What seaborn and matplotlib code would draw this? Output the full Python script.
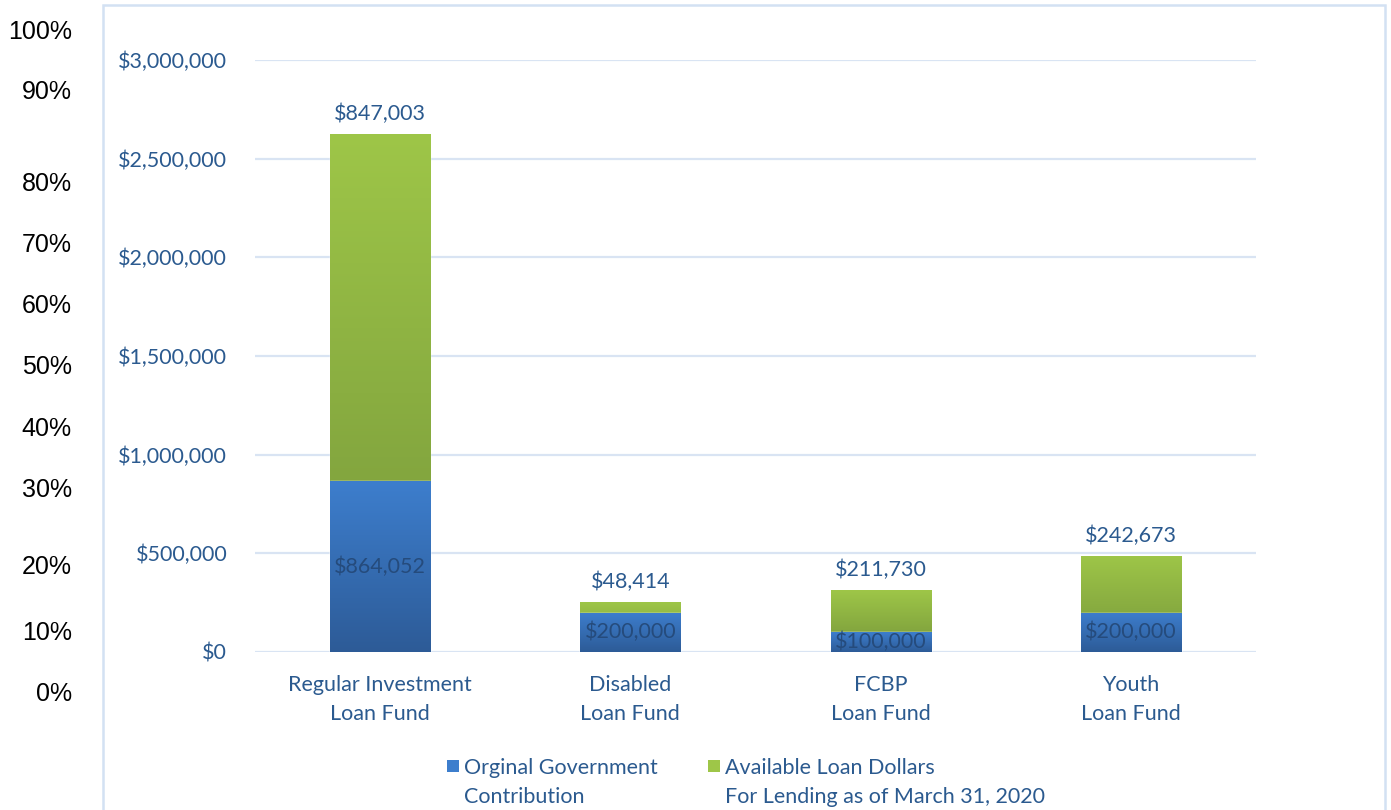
import numpy as np
import pandas as pd
import matplotlib
matplotlib.use("Agg")
import matplotlib.pyplot as plt
from matplotlib.patches import Rectangle
from matplotlib.colors import LinearSegmentedColormap
import seaborn as sns

# data
funds = ["Regular Investment\nLoan Fund", "Disabled\nLoan Fund", "FCBP\nLoan Fund", "Youth\nLoan Fund"]
government = [864052, 200000, 100000, 200000]
available = [1763000, 53000, 214000, 287000]          # drawn bar heights
available_labels = [847003, 48414, 211730, 242673]    # printed values
pct_labels = ["100%", "90%", "80%", "70%", "60%", "50%", "40%", "30%", "20%", "10%", "0%"]
legend_labels = ["Orginal Government\nContribution",
                 "Available Loan Dollars\nFor Lending as of March 31, 2020"]

sns.set_theme(style="white")
plt.rcParams["font.family"] = ["Lato", "DejaVu Sans"]

text_blue = "#2B5A8F"
grid_col = "#D9E4F3"
blue_top, blue_bot = "#3D7ECD", "#2D5B97"
green_top, green_bot = "#9EC648", "#76963A"
fs = 15.5

df = pd.DataFrame({"fund": funds, "gov": government, "avail": available})
df["total"] = df["gov"] + df["avail"]

W, H = 1391, 810
fig = plt.figure(figsize=(W / 100, H / 100), dpi=100)
ax = fig.add_axes([255 / W, 1 - 652 / H, 1001 / W, 592 / H])

sns.barplot(data=df, x="fund", y="total", color=green_top, width=0.4, ax=ax, zorder=2)
sns.barplot(data=df, x="fund", y="gov", color=blue_top, width=0.4, ax=ax, zorder=3)

# vertical gradients inside the bars
n = len(funds)
for i, p in enumerate(ax.patches):
    top, bot = (green_top, green_bot) if i < n else (blue_top, blue_bot)
    cmap = LinearSegmentedColormap.from_list("g", [bot, top])
    x0, y0 = p.get_x(), p.get_y()
    w, h = p.get_width(), p.get_height()
    im = ax.imshow(np.linspace(0, 1, 256).reshape(-1, 1), cmap=cmap, aspect="auto",
                   origin="lower", extent=[x0, x0 + w, y0, y0 + h], zorder=p.get_zorder() + 0.1)
    im.set_clip_path(p)

ax.set_xlim(-0.5, n - 0.5)
ax.set_ylim(0, 3000000)
ax.set_yticks(np.arange(0, 3000001, 500000))
ax.yaxis.set_major_formatter(matplotlib.ticker.FuncFormatter(lambda v, _: f"${v:,.0f}"))
ax.grid(axis="y", color=grid_col, lw=1.6, zorder=0)
ax.set_axisbelow(True)
for s in ax.spines.values():
    s.set_visible(False)
ax.tick_params(axis="y", length=0, pad=20, labelsize=fs, labelcolor=text_blue)
ax.tick_params(axis="x", length=0, pad=16.5, labelsize=fs, labelcolor=text_blue)
for t in ax.get_xticklabels():
    t.set_linespacing(1.58)
ax.set_xlabel("")
ax.set_ylabel("")

# value labels
for i in range(n):
    ax.annotate(f"${available_labels[i]:,}", (i, df["total"][i]), xytext=(0, 7),
                textcoords="offset points", ha="center", va="bottom",
                fontsize=fs, color=text_blue)
    ax.text(i, government[i] / 2, f"${government[i]:,}", ha="center", va="center",
            fontsize=fs, color="#254B7C", zorder=5)

# outer frame
fig.patches.append(Rectangle((103 / W, -0.1), (1385 - 103) / W, 1.1 - 5 / H,
                             transform=fig.transFigure, fill=False,
                             edgecolor="#D3E1F3", lw=1.8))

# percent scale on the far left
pct_y = [32, 92, 184, 245, 306, 367, 429, 490, 567, 633, 694]
for lab, y in zip(pct_labels, pct_y):
    fig.text(72 / W, 1 - y / H, lab, ha="right", va="center", fontsize=18,
             color="black", family=["Liberation Sans", "DejaVu Sans"])

# legend, square beside the first line of each entry
leg_x = [447, 708]
leg_colors = [blue_top, green_top]
for x, c, lab in zip(leg_x, leg_colors, legend_labels):
    fig.patches.append(Rectangle((x / W, 1 - 772 / H), 12 / W, 12 / H,
                                 transform=fig.transFigure, facecolor=c, edgecolor="none"))
    fig.text((x + 17) / W, 1 - 758 / H, lab, ha="left", va="top", fontsize=fs,
             color=text_blue, linespacing=1.58)

fig.savefig("out.png", dpi=100)
